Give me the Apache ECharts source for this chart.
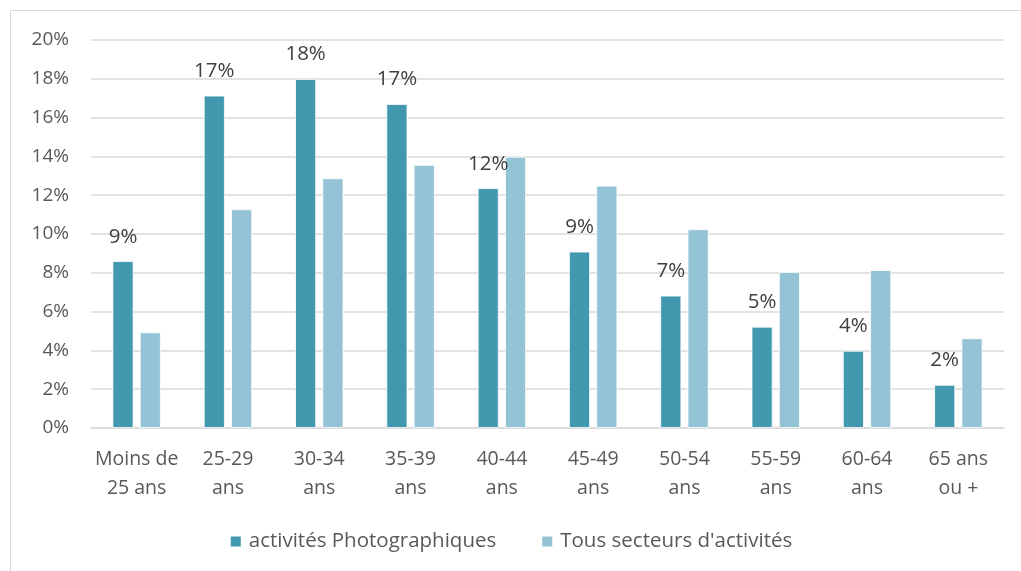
<!DOCTYPE html>
<html><head><meta charset="utf-8">
<script src="https://cdn.jsdelivr.net/npm/echarts@6/dist/echarts.min.js"></script>
<style>html,body{margin:0;padding:0;background:#fff}#c{width:1021px;height:571px}</style>
</head><body><div id="c"></div>
<script>
const categories = ["Moins de\n25 ans","25-29\nans","30-34\nans","35-39\nans","40-44\nans","45-49\nans","50-54\nans","55-59\nans","60-64\nans","65 ans\nou +"];
const photo = [8.6, 17.13, 17.99, 16.7, 12.36, 9.09, 6.82, 5.22, 3.98, 2.22];
const tous = [4.93, 11.27, 12.87, 13.56, 13.98, 12.49, 10.24, 8.04, 8.14, 4.62];
const seriesNames = ["activités Photographiques", "Tous secteurs d'activités"];
const font = "'Open Sans', 'Noto Sans', sans-serif";
const chart = echarts.init(document.getElementById('c'));
chart.setOption({
  animation:false,
  textStyle:{fontFamily:font},
  graphic:[{type:'polyline',shape:{points:[[10.5,571],[10.5,10.5],[1021,10.5]]},style:{stroke:'#d9d9d9',lineWidth:1,fill:null}}],
  grid:{left:91,right:17,top:40,bottom:143},
  legend:{top:526,left:'center',itemWidth:12,itemHeight:12,itemGap:44,icon:'rect',
    textStyle:{fontSize:20.5,color:'#595959',fontFamily:font,padding:[0,0,0,2]}},
  xAxis:{type:'category',data:categories,
    axisLine:{lineStyle:{color:'#d9d9d9',width:1.5}},axisTick:{show:false},
    axisLabel:{fontSize:19.5,color:'#595959',lineHeight:29,margin:17,interval:0,fontFamily:font}},
  yAxis:{type:'value',min:0,max:20,interval:2,
    axisLabel:{formatter:'{value}%',fontSize:19,color:'#595959',margin:22,fontFamily:font},
    splitLine:{lineStyle:{color:'#d9d9d9',width:1.5}},axisLine:{show:false}},
  series:[
    {name:seriesNames[0],type:'bar',data:photo,barWidth:21,barGap:'30%',
     itemStyle:{color:'#4298AF',borderColor:'#fff',borderWidth:0.8},
     label:{show:true,position:'top',distance:14,fontSize:20.5,color:'#404040',fontFamily:font,
       formatter:p=>Math.round(p.value)+'%'}},
    {name:seriesNames[1],type:'bar',data:tous,barWidth:21,barGap:'30%',
     itemStyle:{color:'#93C3D5',borderColor:'#fff',borderWidth:0.8}}
  ]
});
</script></body></html>
